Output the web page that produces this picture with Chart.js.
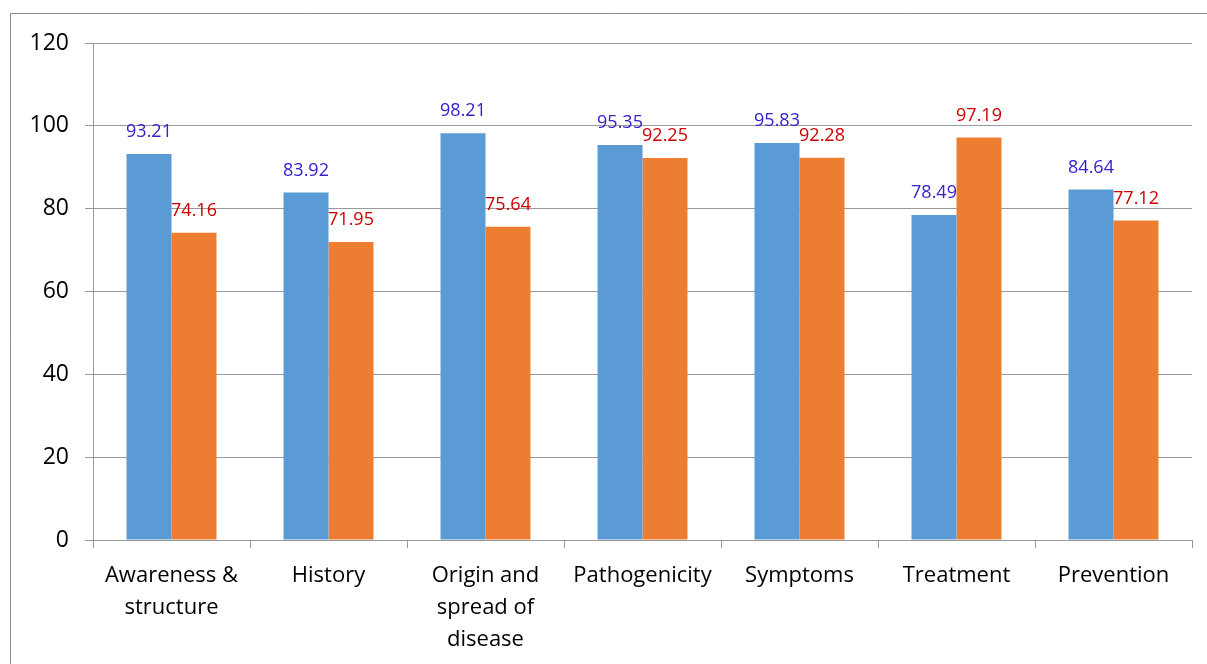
<!DOCTYPE html>
<html>
<head>
<meta charset="utf-8">
<script src="https://cdn.jsdelivr.net/npm/chart.js@4"></script>
<style>
  html, body { margin: 0; padding: 0; background: #fff; }
  #wrap { width: 1207px; height: 664px; position: relative; }
</style>
</head>
<body>
<div id="wrap"><canvas id="chart"></canvas></div>
<script>
// Chart data
const categories = [
  ['Awareness &', 'structure'],
  'History',
  ['Origin and', 'spread of', 'disease'],
  'Pathogenicity',
  'Symptoms',
  'Treatment',
  'Prevention'
];
const seriesBlue = [93.21, 83.92, 98.21, 95.35, 95.83, 78.49, 84.64];
const seriesOrange = [74.16, 71.95, 75.64, 92.25, 92.28, 97.19, 77.12];
const yTicks = [0, 20, 40, 60, 80, 100, 120];

const labelColors = ['#3322CC', '#CC0000'];
const fontFamily = '"Open Sans", sans-serif';

// Outer frame around the picture
const framePlugin = {
  id: 'frame',
  beforeDraw(chart) {
    const ctx = chart.ctx;
    ctx.save();
    ctx.strokeStyle = '#8c8c8c';
    ctx.lineWidth = 1;
    ctx.beginPath();
    ctx.moveTo(10.5, chart.height);
    ctx.lineTo(10.5, 13.5);
    ctx.lineTo(chart.width, 13.5);
    ctx.stroke();
    ctx.restore();
  }
};

// Value labels above each bar
const valueLabels = {
  id: 'valueLabels',
  afterDatasetsDraw(chart) {
    const ctx = chart.ctx;
    ctx.save();
    ctx.font = '18px ' + fontFamily;
    ctx.textAlign = 'center';
    ctx.textBaseline = 'bottom';
    chart.data.datasets.forEach((ds, i) => {
      const meta = chart.getDatasetMeta(i);
      ctx.fillStyle = labelColors[i];
      meta.data.forEach((bar, j) => {
        ctx.fillText(ds.data[j].toFixed(2), bar.x, bar.y - 13);
      });
    });
    ctx.restore();
  }
};

new Chart(document.getElementById('chart'), {
  type: 'bar',
  data: {
    labels: categories,
    datasets: [
      { label: 'Series 1', data: seriesBlue, backgroundColor: '#5B9BD5' },
      { label: 'Series 2', data: seriesOrange, backgroundColor: '#ED7D31' }
    ]
  },
  options: {
    responsive: true,
    maintainAspectRatio: false,
    animation: false,
    categoryPercentage: 0.573,
    barPercentage: 1.0,
    layout: { padding: { left: 0, top: 43, right: 15, bottom: 0 } },
    plugins: {
      legend: { display: false },
      tooltip: { enabled: false }
    },
    scales: {
      x: {
        afterFit: scale => { scale.height = 124; },
        grid: {
          offset: true,
          drawOnChartArea: false,
          drawTicks: true,
          tickLength: 8,
          color: '#999999'
        },
        border: { color: '#999999' },
        ticks: {
          color: '#000',
          padding: 12,
          maxRotation: 0,
          autoSkip: false,
          font: { family: fontFamily, size: 22, lineHeight: 1.45 }
        }
      },
      y: {
        min: 0,
        max: 120,
        afterFit: scale => { scale.width = 93; },
        afterBuildTicks: scale => { scale.ticks = yTicks.map(v => ({ value: v })); },
        grid: { color: '#999999', tickLength: 8 },
        border: { color: '#999999' },
        ticks: {
          color: '#000',
          padding: 16,
          font: { family: fontFamily, size: 23 }
        }
      }
    }
  },
  plugins: [framePlugin, valueLabels]
});
</script>
</body>
</html>
